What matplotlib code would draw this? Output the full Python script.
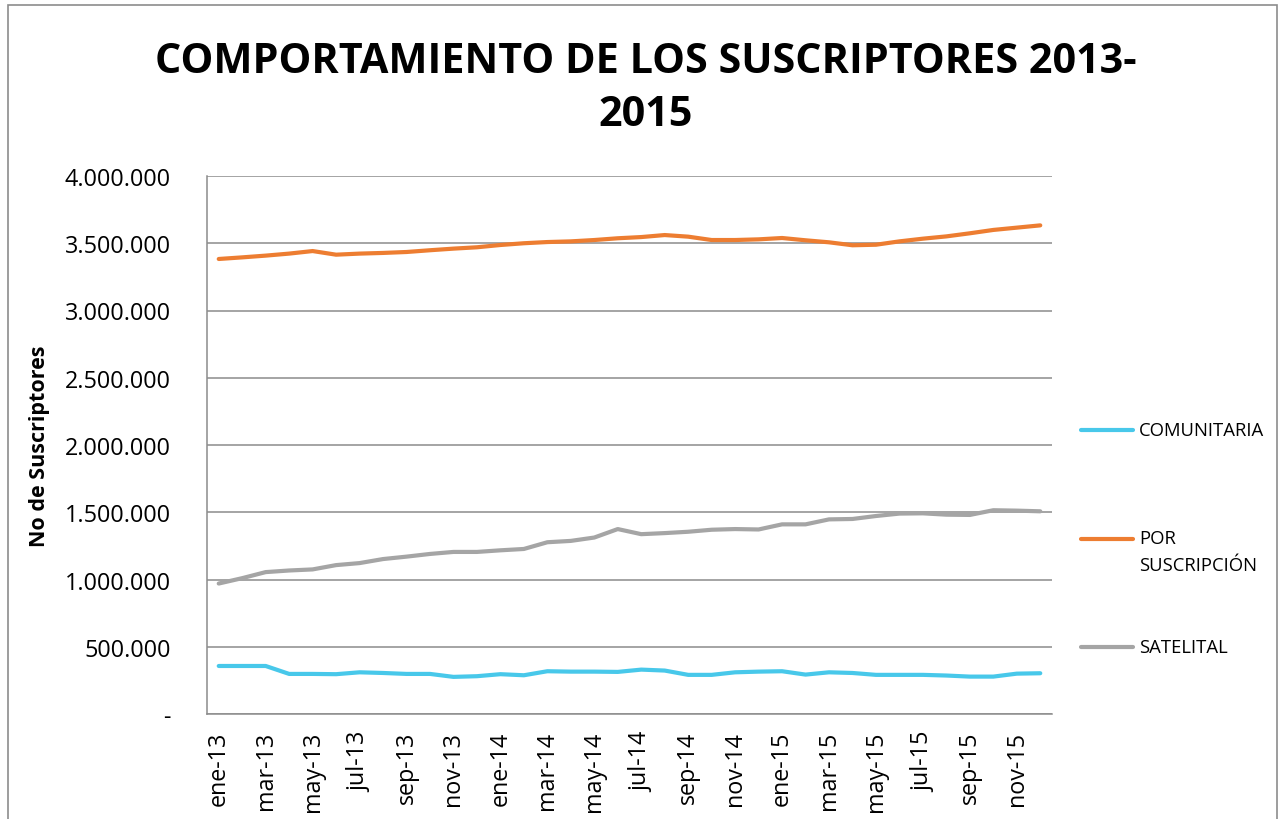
import matplotlib
matplotlib.use("Agg")
import matplotlib.pyplot as plt
from matplotlib.lines import Line2D
from matplotlib.patches import Rectangle
from matplotlib.ticker import FuncFormatter, MultipleLocator

plt.rcParams['font.family'] = ['Open Sans', 'DejaVu Sans']

months = ['ene', 'feb', 'mar', 'abr', 'may', 'jun', 'jul', 'ago', 'sep', 'oct', 'nov', 'dic']
years = ['13', '14', '15']
categories = [f"{m}-{y}" for y in years for m in months]

comunitaria = [357000, 357000, 357000, 298000, 298000, 296000, 310000, 305000, 298000, 298000,
               276000, 281000, 296000, 288000, 318000, 315000, 315000, 313000,
               330000, 323000, 291000, 291000, 310000, 315000, 318000, 293000, 310000,
               305000, 291000, 291000, 291000, 286000, 278000, 278000, 300000, 303000]
por_suscripcion = [3383000, 3395000, 3408000, 3423000, 3442000, 3415000, 3423000, 3428000,
                   3435000, 3448000, 3460000, 3470000, 3487000, 3500000, 3509000, 3514000,
                   3524000, 3537000, 3546000, 3561000, 3549000, 3524000, 3524000, 3529000,
                   3539000, 3522000, 3507000, 3485000, 3489000, 3514000, 3534000, 3551000,
                   3574000, 3599000, 3616000, 3633000]
satelital = [970000, 1010000, 1055000, 1067000, 1075000, 1107000, 1122000, 1152000, 1170000,
             1190000, 1205000, 1205000, 1217000, 1227000, 1277000, 1287000, 1312000, 1375000,
             1337000, 1345000, 1355000, 1370000, 1375000, 1372000, 1410000, 1410000, 1447000,
             1450000, 1472000, 1490000, 1492000, 1482000, 1480000, 1515000, 1512000, 1507000]

series_names = ['COMUNITARIA', 'POR\nSUSCRIPCIÓN', 'SATELITAL']
series_values = [comunitaria, por_suscripcion, satelital]
colors = ['#48C8EA', '#ED7D31', '#A5A5A5']

W, H = 1280, 820
fig = plt.figure(figsize=(W / 100, H / 100), dpi=100)
ax = fig.add_axes([207 / W, 1 - 715 / H, (1052 - 207) / W, (715 - 177) / H])

x = list(range(len(categories)))
for vals, c in zip(series_values, colors):
    ax.plot(x, vals, color=c, lw=3, solid_capstyle='round', solid_joinstyle='round', zorder=3)

ax.set_xlim(-0.5, len(categories) - 0.5)
ax.set_ylim(0, 4000000)
ax.yaxis.set_major_locator(MultipleLocator(500000))
ax.yaxis.set_major_formatter(FuncFormatter(
    lambda v, p: '-' if v == 0 else f"{int(v):,}".replace(',', '.')))
ax.set_xticks(x[::2])
ax.set_xticklabels(categories[::2], rotation=90, fontsize=16.8)
ax.tick_params(axis='both', length=0, labelsize=16.8)
ax.tick_params(axis='y', pad=26)
ax.tick_params(axis='x', pad=12)
ax.grid(axis='y', color='#8C8C8C', lw=1.1, zorder=1)
ax.set_axisbelow(True)
for s in ['top', 'right']:
    ax.spines[s].set_visible(False)
for s in ['left', 'bottom']:
    ax.spines[s].set_color('#8C8C8C')
    ax.spines[s].set_linewidth(1.1)

ax.set_ylabel('No de Suscriptores', fontsize=15.5, fontweight='bold')
ax.yaxis.set_label_coords((50 - 207) / (1052 - 207), 0.5)

fig.text(646 / W, 1 - 89 / H, 'COMPORTAMIENTO DE LOS SUSCRIPTORES 2013-\n2015',
         ha='center', va='center', fontsize=29.8, fontweight='bold', linespacing=1.36)

# legend
leg_y = [431, 540, 648]
for name, c, yy in zip(series_names, colors, leg_y):
    fig.add_artist(Line2D([1081 / W, 1133 / W], [1 - yy / H, 1 - yy / H], color=c, lw=3,
                          solid_capstyle='round', transform=fig.transFigure))
    nlines = name.count('\n')
    fig.text(1139 / W, 1 - (yy + 12.5 * nlines) / H, name, ha='left', va='center',
             fontsize=13.3, linespacing=1.58)

fig.add_artist(Rectangle((8 / W, -0.01), (1277 - 8) / W, 1 - 6 / H + 0.01,
                         transform=fig.transFigure, fill=False, edgecolor='#8C8C8C', lw=1.2))

fig.savefig('out.png', dpi=100)
